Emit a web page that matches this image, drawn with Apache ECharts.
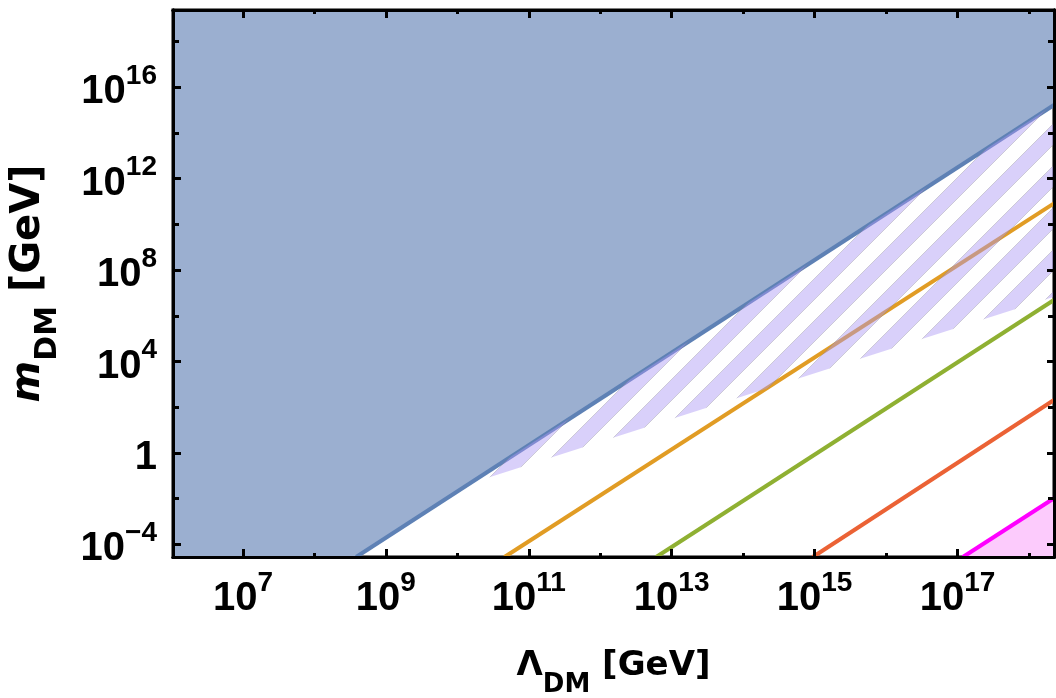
<!DOCTYPE html>
<html>
<head>
<meta charset="utf-8">
<title>m_DM vs Λ_DM</title>
<script src="https://cdn.jsdelivr.net/npm/echarts@6.0.0/dist/echarts.min.js"></script>
<style>
  html, body { margin: 0; padding: 0; background: #fff; }
  #chart { width: 1056px; height: 698px; }
</style>
</head>
<body>
<div id="chart"></div>
<script>
// frame limits in GeV
const lambdaLimits = [1.05e6, 2.24e18];
const massLimits = [2.78e-5, 2.4e19];

// tick exponents (labelled / unlabelled)
const lambdaLabelExp = [7, 9, 11, 13, 15, 17];
const lambdaMinorExp = [8, 10, 12, 14, 16, 18];
const massLabelExp = [-4, 0, 4, 8, 12, 16];
const massMinorExp = [-2, 2, 6, 10, 14, 18];

// boundary lines, where they enter and leave the frame (GeV)
const blueLambda = [3.84e8, 2.24e18];
const blueMass = [2.78e-5, 1.68e15];
const orangeLambda = [4.57e10, 2.24e18];
const orangeMass = [2.78e-5, 8.3e10];
const greenLambda = [6.07e12, 2.24e18];
const greenMass = [2.78e-5, 4.9e6];
const redLambda = [9.44e14, 2.24e18];
const redMass = [2.78e-5, 207];
const magentaLambda = [1.19e17, 2.24e18];
const magentaMass = [2.78e-5, 0.0103];
// lower edge of the hatched band (upper edge is the blue line)
const hatchLambda = [1.46e10, 2.24e18];
const hatchMass = [0.0442, 6.8e6];

const LX = lambdaLimits.map(Math.log10);
const LY = massLimits.map(Math.log10);

function pts(xs, ys) {
    return xs.map((x, i) => [Math.log10(x), Math.log10(ys[i])]);
}

const blueLine = pts(blueLambda, blueMass);
const blueRegion = [[LX[0], LY[0]]].concat(blueLine);
const hatchPolygon = pts(hatchLambda, hatchMass).concat([blueLine[blueLine.length - 1]]);

function stripeTile() {
    const size = 42, band = 21;
    const c = document.createElement('canvas');
    c.width = size;
    c.height = size;
    const ctx = c.getContext('2d');
    for (let k = -1; k <= 2; k++) {
        const c0 = k * size + 1;
        ctx.beginPath();
        ctx.moveTo(c0 + 60, -60);
        ctx.lineTo(c0 + band + 60, -60);
        ctx.lineTo(-60, c0 + band + 60);
        ctx.lineTo(-60, c0 + 60);
        ctx.closePath();
        ctx.fillStyle = 'rgba(170,150,245,0.45)';
        ctx.fill();
        ctx.strokeStyle = 'rgba(130,130,130,0.3)';
        ctx.lineWidth = 1;
        ctx.stroke();
    }
    return c;
}
const hatchFill = { image: stripeTile(), repeat: 'repeat' };

function powerLabel(v) {
    if (v === 0) return '{b|1}';
    return '{b|10}{s|' + (v < 0 ? '\u2212' + (-v) : v) + '}';
}

const tickFont = 'Liberation Sans';
const titleFont = 'DejaVu Sans';
const labelRich = {
    b: { fontSize: 40, fontWeight: 'bold', fontFamily: tickFont, color: '#000', verticalAlign: 'bottom', lineHeight: 50 },
    s: { fontSize: 28, fontWeight: 'bold', fontFamily: tickFont, color: '#000', verticalAlign: 'top' }
};

function titleRich(size, subSize, lh) {
    const base = { fontWeight: 'bold', fontFamily: titleFont, color: '#000' };
    return {
        t: Object.assign({ fontSize: size, verticalAlign: 'top', lineHeight: lh }, base),
        it: Object.assign({ fontSize: size, fontStyle: 'italic', verticalAlign: 'top', lineHeight: lh }, base),
        sub: Object.assign({ fontSize: subSize, verticalAlign: 'bottom' }, base)
    };
}

function makeAxis(kind, position, ticks, tickLen, withLabels) {
    const lim = kind === 'x' ? LX : LY;
    return {
        type: 'value',
        position: position,
        min: lim[0],
        max: lim[1],
        z: 10,
        splitLine: { show: false },
        axisLine: { show: true, onZero: false, lineStyle: { color: '#000', width: 3 } },
        axisTick: { show: true, inside: true, length: tickLen, customValues: ticks, lineStyle: { color: '#000', width: 3 } },
        axisLabel: withLabels
            ? { show: true, customValues: ticks, margin: kind === 'x' ? 12 : 16, formatter: powerLabel, rich: labelRich }
            : { show: false }
    };
}

const xAxes = [
    makeAxis('x', 'bottom', lambdaLabelExp, 8, true),
    makeAxis('x', 'bottom', lambdaMinorExp, 4, false),
    makeAxis('x', 'top', lambdaLabelExp, 8, false),
    makeAxis('x', 'top', lambdaMinorExp, 4, false)
];
Object.assign(xAxes[0], {
    name: '{t|\u039B}{sub|DM}{t| [GeV]}',
    nameLocation: 'middle',
    nameGap: 92,
    nameTextStyle: { rich: titleRich(34, 26, 49) }
});

const yAxes = [
    makeAxis('y', 'left', massLabelExp, 8, true),
    makeAxis('y', 'left', massMinorExp, 6, false),
    makeAxis('y', 'right', massLabelExp, 7, false),
    makeAxis('y', 'right', massMinorExp, 6, false)
];
Object.assign(yAxes[0], {
    name: '{it|m}{sub|DM}{t| [GeV]}',
    nameLocation: 'middle',
    nameGap: 110,
    nameTextStyle: { rich: titleRich(40, 30, 54) }
});

function boundary(name, xs, ys, color, z) {
    return {
        name: name,
        type: 'line',
        data: pts(xs, ys),
        symbol: 'none',
        z: z,
        lineStyle: { color: color, width: 4 },
        silent: true
    };
}

const option = {
    animation: false,
    grid: { left: 173, right: 2, top: 10, bottom: 141, show: true, borderColor: '#000', borderWidth: 3, outerBoundsMode: 'none' },
    xAxis: xAxes,
    yAxis: yAxes,
    series: [
        {
            name: 'excluded',
            type: 'line',
            data: blueRegion,
            symbol: 'none',
            z: 1,
            lineStyle: { width: 0 },
            areaStyle: { origin: 'end', color: '#9BAFD0', opacity: 1 }
        },
        Object.assign(boundary('magenta', magentaLambda, magentaMass, '#FF00FF', 2), {
            areaStyle: { origin: 'start', color: '#FCCBFC', opacity: 1 }
        }),
        boundary('orange', orangeLambda, orangeMass, '#E19C24', 2),
        boundary('green', greenLambda, greenMass, '#8FB032', 2),
        boundary('red', redLambda, redMass, '#EB6235', 2),
        boundary('blue', blueLambda, blueMass, '#5E81B5', 3),
        {
            name: 'hatch',
            type: 'custom',
            z: 4,
            silent: true,
            data: [hatchPolygon[0]],
            renderItem: function (params, api) {
                return {
                    type: 'polygon',
                    shape: { points: hatchPolygon.map(p => api.coord(p)) },
                    style: { fill: hatchFill, stroke: null }
                };
            }
        }
    ]
};

const chart = echarts.init(document.getElementById('chart'));
chart.setOption(option);
</script>
</body>
</html>
